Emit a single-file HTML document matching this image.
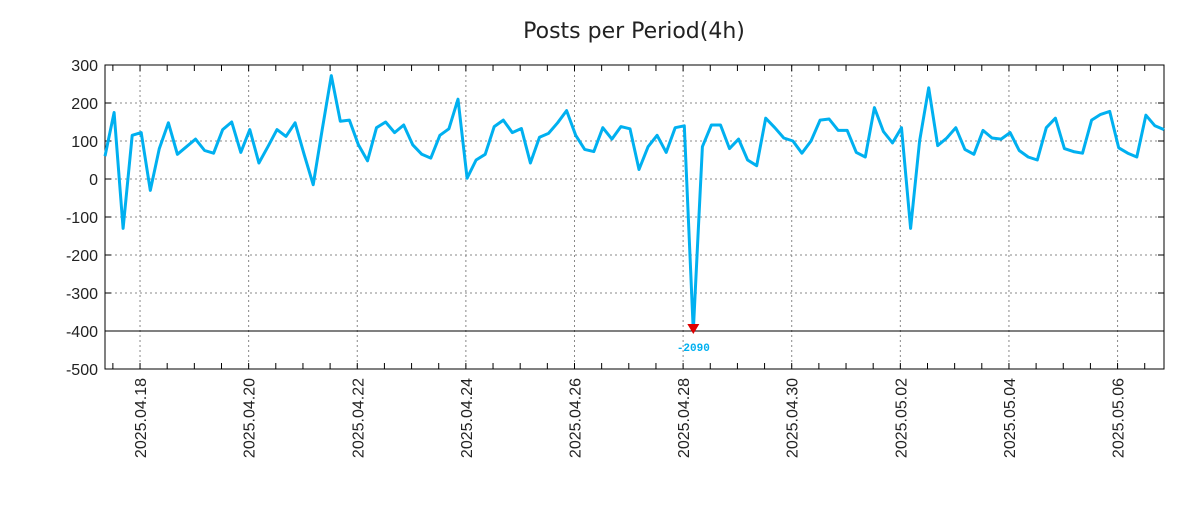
<!DOCTYPE html>
<html><head><meta charset="utf-8"><style>
body{margin:0;background:#fff;width:1200px;height:500px;overflow:hidden;font-family:"Liberation Sans","DejaVu Sans",sans-serif}
</style></head><body>
<svg id="chart" width="1200" height="500" xmlns="http://www.w3.org/2000/svg">
<text x="634" y="38" text-anchor="middle" font-size="22" fill="#222" font-family="DejaVu Sans, sans-serif">Posts per Period(4h)</text>
<g id="grid"></g><g id="axes"></g><g id="series"></g>
</svg>
<script>
const values=[60,175,-130,115,122,-30,80,148,65,85,105,75,68,130,150,70,130,42,85,130,112,148,65,-15,130,272,152,155,90,48,135,150,122,142,90,65,55,115,132,210,2,50,65,138,155,122,133,42,110,120,148,180,115,78,72,135,105,138,132,25,85,115,70,135,140,-2090,85,142,142,80,105,50,35,160,135,108,100,68,100,155,158,128,128,70,58,188,125,95,135,-130,100,240,88,108,135,78,65,128,108,105,122,75,58,50,135,160,80,72,68,155,170,178,82,68,58,168,140,130];
const yTicks=[300,200,100,0,-100,-200,-300,-400,-500];
const dateLabels=["2025.04.18","2025.04.20","2025.04.22","2025.04.24","2025.04.26","2025.04.28","2025.04.30","2025.05.02","2025.05.04","2025.05.06"];
const firstDateIndex=3.87, perDay=6, yMin=-500,yMax=300;
const L=105,R=1164,T=65,B=369;
const ns="http://www.w3.org/2000/svg";
const X=i=>L+i*(R-L)/(values.length-1);
const Y=v=>B-(v-yMin)/(yMax-yMin)*(B-T);
function mk(tag,attrs,parent){const e=document.createElementNS(ns,tag);for(const k in attrs)e.setAttribute(k,attrs[k]);parent.appendChild(e);return e;}
const grid=document.getElementById('grid'),axes=document.getElementById('axes'),series=document.getElementById('series');
yTicks.forEach(v=>{
  const y=Y(v);
  const g=mk('line',{x1:L,x2:R,y1:y,y2:y,stroke:'#888','stroke-dasharray':'2,3','stroke-width':1},grid);
  
  
  const t=mk('text',{x:98,y:y+6,'text-anchor':'end','font-size':16,fill:'#222'},axes);
  
  
  t.textContent=v;
  mk('line',{x1:L,x2:L+6,y1:y,y2:y,stroke:'#000'},axes);
  mk('line',{x1:R-6,x2:R,y1:y,y2:y,stroke:'#000'},axes);
});
dateLabels.forEach((d,k)=>{
  const x=X(firstDateIndex+k*2*perDay);
  const g=mk('line',{x1:x,x2:x,y1:T,y2:B,stroke:'#888','stroke-dasharray':'2,3'},grid);
  
  
  const t=mk('text',{transform:`translate(${x+6},378) rotate(-90)`,'text-anchor':'end','font-size':16,fill:'#222'},axes);
  
  
  t.textContent=d;
});
for(let h=firstDateIndex-3;h<values.length;h+=3){const x=X(h);if(x<L||x>R)continue;
  mk('line',{x1:x,x2:x,y1:T,y2:T+6,stroke:'#000'},axes);mk('line',{x1:x,x2:x,y1:B-6,y2:B,stroke:'#000'},axes);}
const floorV=-400;
const base=mk('line',{x1:L,x2:R,y1:Y(floorV),y2:Y(floorV),stroke:'#000','stroke-width':1},axes);


const frame=mk('rect',{x:L,y:T,width:R-L,height:B-T,fill:'none',stroke:'#000','stroke-width':1},axes);


const pts=values.map((v,i)=>X(i).toFixed(1)+','+Y(Math.max(v,floorV)).toFixed(1)).join(' ');
const line=mk('polyline',{points:pts,fill:'none',stroke:'#00b0f0','stroke-width':3,'stroke-linejoin':'round'},series);


values.forEach((v,i)=>{if(v<floorV){const x=X(i),y=Y(floorV);
  const m=mk('polygon',{points:`${x-6},${y-7} ${x+6},${y-7} ${x},${y+3}`,fill:'#e00000'},series);
  
  
  const t=mk('text',{x:x,y:y+20,'text-anchor':'middle','font-size':11,'font-weight':'bold',fill:'#00b0f0','font-family':'Liberation Mono, monospace'},series);
  
  
  t.textContent=v;}});
</script>
</body></html>
